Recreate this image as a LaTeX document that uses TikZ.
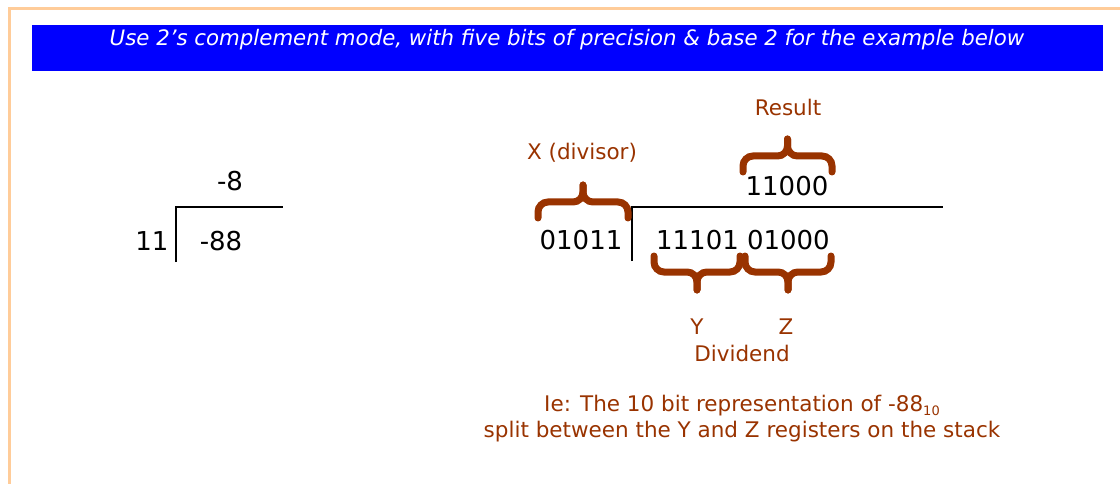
\documentclass[tikz,border=0pt]{standalone}
\usepackage{fontspec}
\setmainfont{DejaVu Sans}
\definecolor{brownc}{RGB}{153,51,0}
\definecolor{framec}{RGB}{255,204,153}
\definecolor{headblue}{RGB}{0,0,255}
\tikzset{
  num/.style={inner sep=0pt, font=\fontsize{26}{30}\selectfont, text=black},
  lbl/.style={inner sep=0pt, font=\fontsize{21.5}{25}\selectfont, text=brownc},
  rule/.style={draw=black, line width=1.3pt},
  bracestyle/.style={draw=brownc, line width=7pt, rounded corners=10pt, line cap=round}
}
\begin{document}
\begin{tikzpicture}[x=1pt,y=1pt]
\useasboundingbox (0,0) rectangle (1120,-484);
% frame
\draw[framec, line width=3pt] (9,-484) -- (9,-9) -- (1120,-9);
% header
\node[fill=headblue, minimum width=1071pt, minimum height=46pt, inner sep=0pt, anchor=north west] (head) at (32,-25) {};
\node[inner sep=0pt, text=white, font=\fontsize{21.3}{25}\selectfont\itshape] (headtxt) at (567,-39.5) {Use 2’s complement mode, with five bits of precision \& base 2 for the example below};
% left division
\node[num] (q) at (230,-181) {-8};
\node[num] (dv) at (152,-241) {11};
\node[num] (dd) at (221,-241) {-88};
\coordinate (l1) at (176,-207);
\coordinate (l2) at (283,-207);
\coordinate (l3) at (176,-262);
\draw[rule] (l3) -- (l1) -- (l2);
% right division
\node[num] (x) at (581,-240) {01011};
\node[num] (yz) at (743,-240) {11101 01000};
\node[num] (res) at (787,-186) {11000};
\coordinate (r1) at (632,-207);
\coordinate (r2) at (943,-207);
\coordinate (r3) at (632,-261);
\draw[rule] (r3) -- (r1) -- (r2);
% braces
\draw[bracestyle] (538,-218) -- (538,-202) -- (583,-202) -- (583,-185);
\draw[bracestyle] (583,-185) -- (583,-202) -- (628,-202) -- (628,-218);
\draw[bracestyle] (743,-172) -- (743,-156) -- (787.5,-156) -- (787.5,-139);
\draw[bracestyle] (787.5,-139) -- (787.5,-156) -- (832,-156) -- (832,-172);
\draw[bracestyle] (654,-256) -- (654,-272) -- (697,-272) -- (697,-290);
\draw[bracestyle] (697,-290) -- (697,-272) -- (740,-272) -- (740,-256);
\draw[bracestyle] (745,-256) -- (745,-272) -- (788,-272) -- (788,-290);
\draw[bracestyle] (788,-290) -- (788,-272) -- (831,-272) -- (831,-256);
% labels
\node[lbl] (resl) at (788,-107) {Result};
\node[lbl] (xl) at (582,-153) {X (divisor)};
\node[lbl] (yl) at (697,-327) {Y};
\node[lbl] (zl) at (786,-327) {Z};
\node[lbl] (dl) at (742,-353) {Dividend};
\node[lbl] (n1) at (742,-406) {Ie: The 10 bit representation of -88\raisebox{-0.3ex}{\fontsize{13}{13}\selectfont 10}};
\node[lbl] (n2) at (742,-432) {split between the Y and Z registers on the stack};
\end{tikzpicture}
\end{document}
